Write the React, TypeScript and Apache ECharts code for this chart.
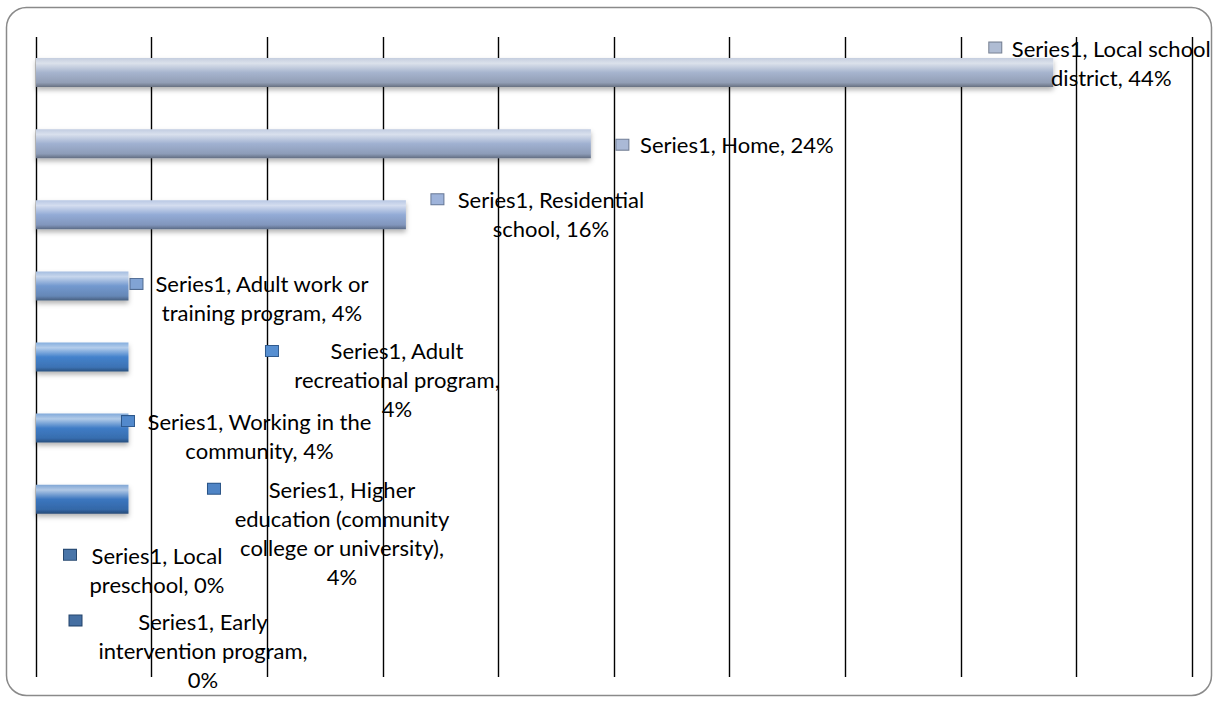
import React, { useEffect, useRef } from "react";
import * as echarts from "echarts";

const seriesName = "Series1";
const categories = [
  "Local school district",
  "Home",
  "Residential school",
  "Adult work or training program",
  "Adult recreational program",
  "Working in the community",
  "Higher education (community college or university)",
  "Local preschool",
  "Early intervention program",
];
const values = [44, 24, 16, 4, 4, 4, 4, 0, 0];
const xTicks = { min: 0, max: 50, interval: 5 };

// line wrapping of each data label (words per line)
const wordsPerLine = [[3, 2], [3], [2, 2], [4, 3], [2, 2, 1], [4, 2], [2, 2, 3, 1], [2, 2], [2, 2, 1]];
// label text offset from bar end (text centre x, first line centre y)
const labelOffsets = [[58, -24.5], [146, 1], [145, -15.5], [133.5, -2], [268.5, -6.5], [131, -7], [213.5, -9.5], [121, -15], [167, -19.5]];
// legend-key marker offset from bar end
const markerOffsets = [[-58, -25], [31.5, 1], [31.5, -15.5], [8, -2], [143.5, -6], [-0.5, -7], [85.5, -10.5], [34, -15.5], [39.5, -21]];
const barColors = ["#a6b4ce", "#a0b1d1", "#93abd6", "#7399cf", "#4482cc", "#3f7cc6", "#3b76bf", "#35669f", "#305f98"];

function mix(hex: string, target: number, t: number) {
  const n = parseInt(hex.slice(1), 16);
  const r = (n >> 16) & 255, g = (n >> 8) & 255, b = n & 255;
  const f = (c: number) => Math.round(c + (target - c) * t);
  return `rgb(${f(r)},${f(g)},${f(b)})`;
}

function labelText(i: number) {
  const words = `${seriesName}, ${categories[i]}, ${values[i]}%`.split(" ");
  const lines: string[] = [];
  let k = 0;
  for (const n of wordsPerLine[i]) {
    lines.push(words.slice(k, k + n).join(" "));
    k += n;
  }
  return lines.join("\n");
}

export default function App() {
  const ref = useRef<HTMLDivElement>(null);
  useEffect(() => {
    if (!ref.current) return;
    const chart = echarts.init(ref.current, null, { renderer: "svg" });
    const fontFamily = "Lato, Carlito, 'Liberation Sans', sans-serif";
    const barData = values.map((v, i) => ({
      value: v,
      itemStyle: {
        color: new echarts.graphic.LinearGradient(0, 0, 0, 1, [
          { offset: 0, color: mix(barColors[i], 255, 0.35) },
          { offset: 0.18, color: mix(barColors[i], 255, 0.6) },
          { offset: 0.5, color: barColors[i] },
          { offset: 0.85, color: mix(barColors[i], 0, 0.12) },
          { offset: 1, color: mix(barColors[i], 0, 0.38) },
        ]),
      },
      label: { offset: [labelOffsets[i][0], labelOffsets[i][1] - 14.5] },
    }));
    const markerData = values.map((v, i) => ({
      value: v,
      label: {
        offset: markerOffsets[i],
        rich: {
          m: {
            width: 12,
            height: 10,
            backgroundColor: mix(barColors[i], 255, 0.1),
            borderColor: mix(barColors[i], 0, 0.3),
            borderWidth: 1,
          },
        },
      },
    }));
    chart.setOption({
      animation: false,
      grid: { left: 36, right: 25, top: 37, bottom: 24, containLabel: false },
      xAxis: {
        type: "value",
        min: xTicks.min,
        max: xTicks.max,
        interval: xTicks.interval,
        axisLabel: { show: false },
        axisLine: { show: false },
        axisTick: { show: false },
        splitLine: { show: true, lineStyle: { color: "#000", width: 1.4 } },
      },
      yAxis: {
        type: "category",
        inverse: true,
        data: categories,
        axisLabel: { show: false },
        axisLine: { show: false },
        axisTick: { show: false },
      },
      graphic: [
        {
          type: "rect",
          shape: { x: 6.5, y: 7.5, width: 1205, height: 688, r: 20 },
          style: { fill: "none", stroke: "#8a8a8a", lineWidth: 1.5 },
          silent: true,
          z: -1,
        },
      ],
      series: [
        {
          name: seriesName,
          type: "bar",
          barWidth: 29,
          data: barData,
          itemStyle: {
            shadowBlur: 5,
            shadowOffsetY: 3,
            shadowColor: "rgba(0,0,0,0.3)",
          },
          label: {
            show: true,
            position: "right",
            distance: 0,
            align: "center",
            verticalAlign: "top",
            fontFamily,
            fontSize: 22,
            lineHeight: 29,
            color: "#000",
            formatter: (p: any) => labelText(p.dataIndex),
          },
          z: 2,
        },
        {
          name: "marker",
          type: "bar",
          barWidth: 29,
          barGap: "-100%",
          silent: true,
          data: markerData,
          itemStyle: { color: "rgba(0,0,0,0)" },
          label: {
            show: true,
            position: "right",
            distance: 0,
            align: "center",
            verticalAlign: "middle",
            formatter: "{m|}",
          },
          z: 3,
        },
      ],
    });
    return () => chart.dispose();
  }, []);
  return (
    <div
      ref={ref}
      style={{ position: "fixed", left: 0, top: 0, width: 1217, height: 701, background: "#fff" }}
    />
  );
}
